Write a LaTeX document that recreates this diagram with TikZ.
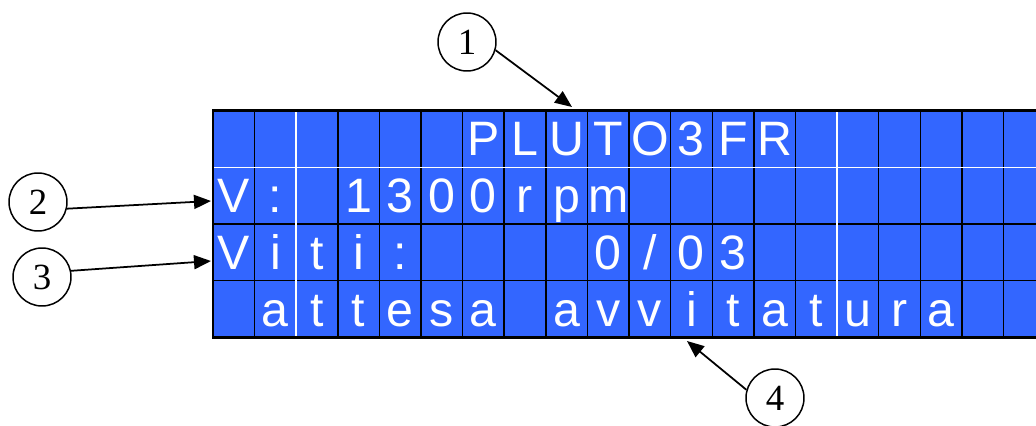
\documentclass[tikz,border=0pt]{standalone}
\usepackage{fontspec}
\setmainfont{Liberation Serif}
\newfontfamily\lcdfont{Liberation Sans}
\usetikzlibrary{arrows.meta}
\definecolor{lcdblue}{RGB}{51,102,255}

\begin{document}
\begin{tikzpicture}
  [x=0.02cm,y=-0.02cm,every node/.style={inner sep=0pt}]

  \tikzstyle{lcd} = [font=\lcdfont\fontsize{27.5}{30}\selectfont,text=white,anchor=base]
  \tikzstyle{num} = [draw,circle,line width=0.85pt,minimum size=1.16cm,font=\fontsize{21}{24}\selectfont]

  \clip (0,0) rectangle (1036,426);

  % display
  \fill[lcdblue] (213,110.5) rectangle (1040,337.5);
  \foreach \c in {1,...,19}
    \draw[line width=0.8pt] ({213+41.6*\c},110.5) -- ({213+41.6*\c},337.5);
  \foreach \r in {2,3}
    \draw[line width=0.8pt] (213,{110.5+56.75*\r}) -- (1040,{110.5+56.75*\r});
  \draw[white,line width=0.8pt] (213,167.25) -- (1040,167.25);
  \draw[white,line width=0.8pt] (296.2,110.5) -- (296.2,337.5);
  \draw[white,line width=0.8pt] (837,110.5) -- (837,337.5);
  \draw[line width=1.7pt] (1040,110.5) -- (213,110.5) -- (213,337.5) -- (1040,337.5);

  \foreach \c/\ch in {6/P,7/L,8/U,9/T,10/O,11/3,12/F,13/R}
    \node[lcd] (a\c) at ({213+41.6*(\c+0.5)},155.5) {\ch};
  \foreach \c/\ch in {0/V,1/:,3/1,4/3,5/0,6/0,7/r,8/p,9/m}
    \node[lcd] (b\c) at ({213+41.6*(\c+0.5)},212.25) {\ch};
  \foreach \c/\ch in {0/V,1/i,2/t,3/i,4/:,9/0,10/{/},11/0,12/3}
    \node[lcd] (c\c) at ({213+41.6*(\c+0.5)},269) {\ch};
  \foreach \c/\ch in {1/a,2/t,3/t,4/e,5/s,6/a,8/a,9/v,10/v,11/i,12/t,13/a,14/t,15/u,16/r,17/a}
    \node[lcd] (d\c) at ({213+41.6*(\c+0.5)},326.25) {\ch};

  % callouts
  \node[num] (n1) at (467,42) {1};
  \node[num] (n2) at (38,202) {2};
  \node[num] (n3) at (42,277) {3};
  \node[num] (n4) at (775,398) {4};

  \coordinate (p1) at (572,107);
  \coordinate (p2) at (211,201);
  \coordinate (p3) at (211,261);
  \coordinate (p4) at (687,341);

  \path[-{Triangle[length=0.34cm,width=0.28cm]}, line width=1pt]
        (n1.-16) edge (p1)
        (n2.-13) edge (p2)
        (n3.12)  edge (p3)
        (n4.164) edge (p4);
\end{tikzpicture}
\end{document}
